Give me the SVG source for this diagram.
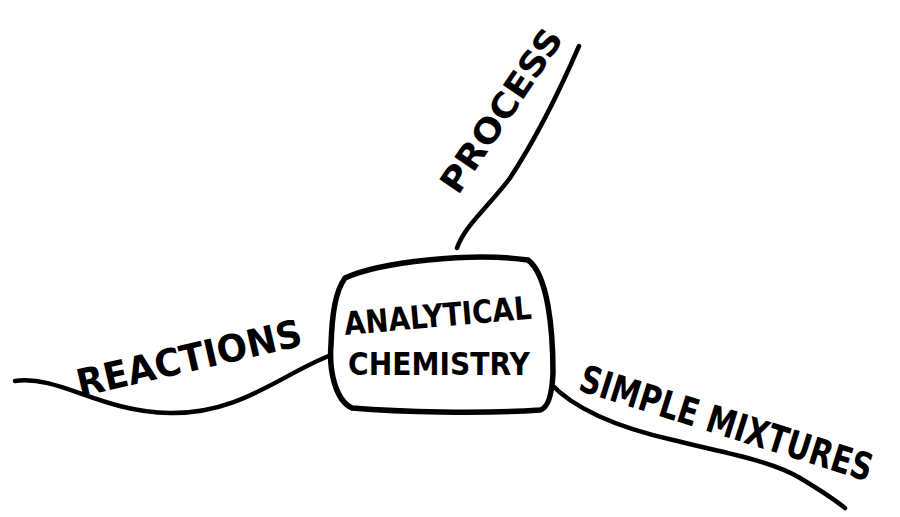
<svg xmlns="http://www.w3.org/2000/svg" width="900" height="517" viewBox="0 0 900 517">
<style>
.line{fill:none;stroke:#000;stroke-width:4.5;stroke-linecap:round;stroke-linejoin:round}
.node{fill:#fff;stroke:#000;stroke-width:5.5;stroke-linejoin:round}
.lbl{font-family:"DejaVu Sans","Liberation Sans",sans-serif;font-weight:bold;fill:#000}
</style>
<rect width="900" height="517" fill="#fff"/>
<g id="connectors">
<path class="line" d="M457 248 C465 225,490 205,510 178 C535 140,560 90,579 46"/>
<path class="line" d="M15 381 C60 375,100 412,170 413 C240 414,280 375,331 355"/>
<path class="line" d="M550 383 C575 410,620 428,673 440 C720 452,770 460,800 478 C820 490,835 500,845 508"/>
</g>
<g id="node-analytical-chemistry">
<path class="node" d="M345 278 C380 262,470 252,528 260 C548 275,553 330,553 373 C552 395,548 408,540 410 C480 414,400 412,352 408 C335 400,329 370,331 345 C332 315,335 292,345 278 Z"/>
<text class="lbl" font-size="32" transform="rotate(-5 345 335)" x="345" y="335" textLength="188" lengthAdjust="spacingAndGlyphs">ANALYTICAL</text>
<text class="lbl" font-size="32" x="348" y="375" textLength="182" lengthAdjust="spacingAndGlyphs">CHEMISTRY</text>
</g>
<g id="node-process">
<text class="lbl" font-size="34" transform="rotate(-56 458 196)" x="458" y="196" textLength="190" lengthAdjust="spacingAndGlyphs">PROCESS</text>
</g>
<g id="node-reactions">
<text class="lbl" font-size="38" transform="rotate(-13 80 397)" x="80" y="397" textLength="230" lengthAdjust="spacingAndGlyphs">REACTIONS</text>
</g>
<g id="node-simple-mixtures">
<text class="lbl" font-size="38" transform="rotate(17.5 577 390)" x="577" y="390" textLength="305" lengthAdjust="spacingAndGlyphs">SIMPLE MIXTURES</text>
</g>
</svg>
